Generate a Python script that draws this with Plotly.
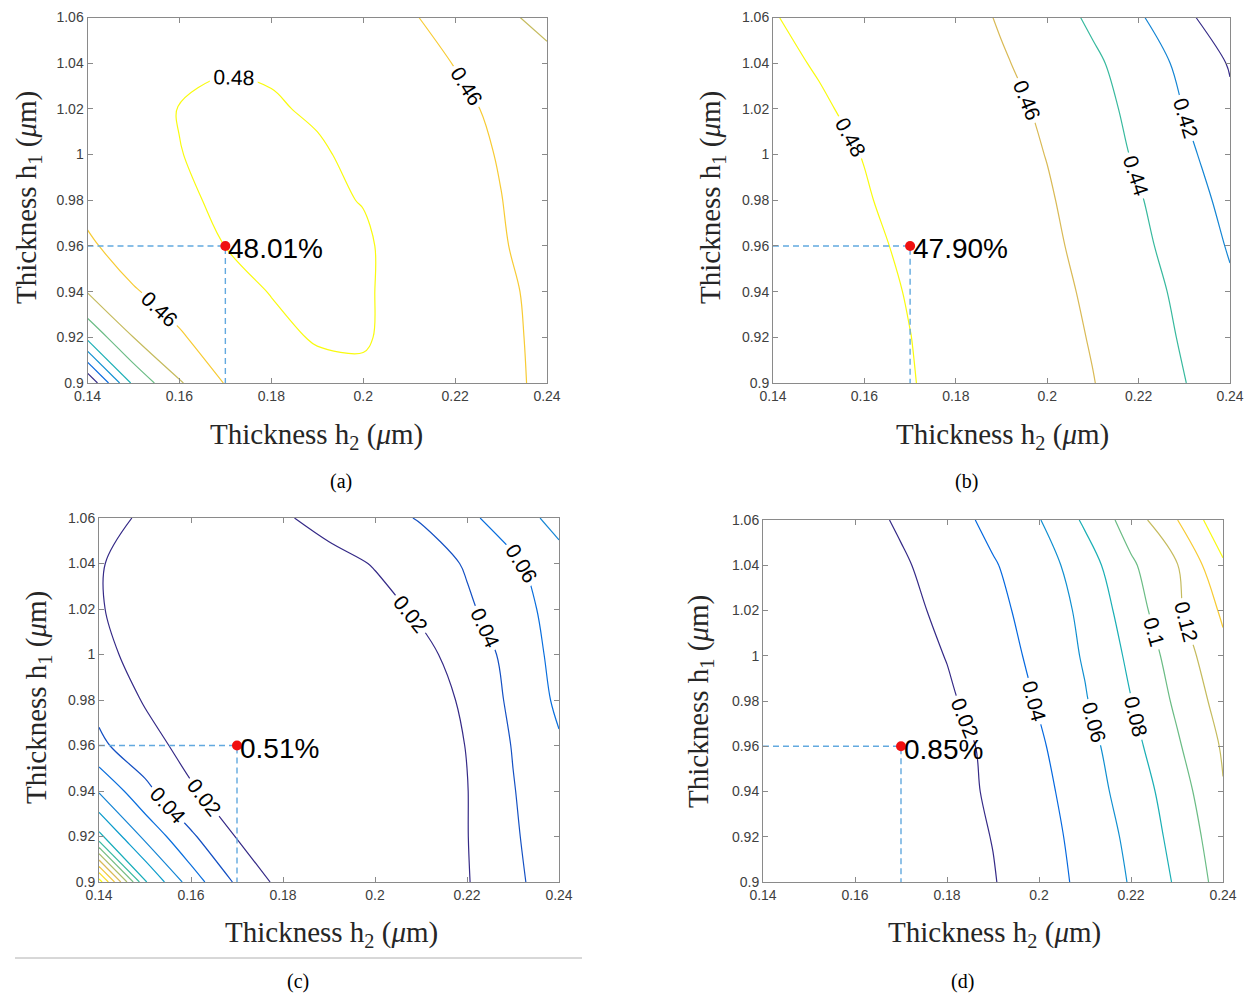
import plotly.graph_objects as go

# ---------------- data ----------------
H2 = [0.14, 0.15, 0.16, 0.17, 0.18, 0.19, 0.20, 0.21, 0.22, 0.23, 0.24]   # thickness h2 (um)
H1 = [0.90, 0.92, 0.94, 0.96, 0.98, 1.00, 1.02, 1.04, 1.06]               # thickness h1 (um)

# (a) rows = H1, columns = H2
Z_A = [
    [0.322, 0.405, 0.438, 0.461, 0.470, 0.475, 0.477, 0.475, 0.471, 0.465, 0.456],
    [0.405, 0.440, 0.458, 0.470, 0.4765, 0.4812, 0.4815, 0.4745, 0.469, 0.4635, 0.4565],
    [0.441, 0.4585, 0.468, 0.4755, 0.4805, 0.4828, 0.4822, 0.4735, 0.4685, 0.4635, 0.455],
    [0.457, 0.469, 0.4755, 0.4801, 0.4825, 0.483, 0.4822, 0.4735, 0.4685, 0.4612, 0.454],
    [0.4655, 0.472, 0.4785, 0.4815, 0.483, 0.4825, 0.4795, 0.474, 0.468, 0.4603, 0.452],
    [0.469, 0.4745, 0.4798, 0.482, 0.4825, 0.4815, 0.477, 0.4715, 0.4655, 0.459, 0.449],
    [0.4705, 0.4755, 0.4803, 0.4825, 0.4812, 0.4785, 0.4745, 0.4695, 0.4635, 0.457, 0.446],
    [0.4705, 0.4745, 0.4775, 0.479, 0.4785, 0.4755, 0.4715, 0.4665, 0.4595, 0.4515, 0.4432],
    [0.469, 0.4725, 0.475, 0.476, 0.4752, 0.4725, 0.4685, 0.4615, 0.4545, 0.4425, 0.4365],
]
# (b)
Z_B = [
    [0.4865, 0.4852, 0.4832, 0.4804, 0.4775, 0.4735, 0.468, 0.4605, 0.451, 0.4405, 0.429],
    [0.4862, 0.485, 0.483, 0.4801, 0.4768, 0.4725, 0.4668, 0.4588, 0.4495, 0.438, 0.4255],
    [0.4858, 0.4845, 0.4825, 0.4795, 0.476, 0.4713, 0.4652, 0.457, 0.4475, 0.4355, 0.4225],
    [0.4852, 0.4838, 0.4812, 0.479, 0.4752, 0.470, 0.4635, 0.4545, 0.4445, 0.4315, 0.4185],
    [0.4845, 0.4828, 0.4805, 0.478, 0.474, 0.4685, 0.4618, 0.452, 0.4415, 0.4285, 0.4145],
    [0.4835, 0.4818, 0.4798, 0.477, 0.4728, 0.4672, 0.4595, 0.4495, 0.4375, 0.4245, 0.409],
    [0.4825, 0.4808, 0.4785, 0.4757, 0.4712, 0.4652, 0.457, 0.447, 0.4345, 0.4195, 0.4035],
    [0.4815, 0.4795, 0.4772, 0.4742, 0.4695, 0.4615, 0.4543, 0.4435, 0.4305, 0.4153, 0.3985],
    [0.4803, 0.4782, 0.4757, 0.4722, 0.4665, 0.4585, 0.4495, 0.4365, 0.4225, 0.4045, 0.387],
]
# (c)
Z_C = [
    [0.270, 0.122, 0.070, 0.0367, 0.0135, 0.008, 0.006, 0.0095, 0.019, 0.034, 0.0555],
    [0.125, 0.075, 0.043, 0.019, 0.010, 0.0065, 0.0055, 0.009, 0.0195, 0.037, 0.056],
    [0.078, 0.045, 0.022, 0.011, 0.006, 0.0045, 0.0055, 0.0095, 0.0195, 0.039, 0.0565],
    [0.044, 0.027, 0.0135, 0.0051, 0.004, 0.0045, 0.0065, 0.0105, 0.0205, 0.041, 0.058],
    [0.034, 0.0185, 0.0095, 0.0055, 0.0045, 0.0055, 0.0085, 0.0125, 0.0225, 0.0445, 0.0635],
    [0.025, 0.0135, 0.0065, 0.0042, 0.0045, 0.0075, 0.0115, 0.016, 0.0265, 0.0475, 0.066],
    [0.0213, 0.0115, 0.0055, 0.004, 0.0055, 0.009, 0.0145, 0.0225, 0.037, 0.0515, 0.068],
    [0.0215, 0.0105, 0.006, 0.0055, 0.009, 0.0145, 0.021, 0.0295, 0.042, 0.0565, 0.0725],
    [0.030, 0.016, 0.012, 0.013, 0.018, 0.026, 0.033, 0.0415, 0.056, 0.070, 0.087],
]
# (d)
Z_D = [
    [0.0032, 0.005, 0.0072, 0.0098, 0.0128, 0.019, 0.031, 0.0445, 0.0615, 0.0825, 0.108],
    [0.003, 0.0048, 0.007, 0.0095, 0.0128, 0.0205, 0.0325, 0.0465, 0.0645, 0.0865, 0.112],
    [0.0028, 0.0045, 0.0065, 0.0092, 0.0135, 0.0225, 0.0345, 0.0498, 0.069, 0.090, 0.119],
    [0.0027, 0.0045, 0.0065, 0.0085, 0.0135, 0.024, 0.0375, 0.053, 0.0735, 0.0975, 0.122],
    [0.0027, 0.0048, 0.0078, 0.0122, 0.0178, 0.027, 0.0415, 0.0585, 0.0795, 0.1035, 0.128],
    [0.0028, 0.005, 0.0085, 0.0135, 0.0205, 0.031, 0.045, 0.062, 0.084, 0.109, 0.135],
    [0.003, 0.0055, 0.0095, 0.0155, 0.0235, 0.0345, 0.048, 0.0645, 0.090, 0.1165, 0.143],
    [0.0035, 0.0065, 0.0115, 0.018, 0.0265, 0.0385, 0.0505, 0.0705, 0.097, 0.119, 0.157],
    [0.004, 0.008, 0.014, 0.022, 0.032, 0.045, 0.059, 0.083, 0.109, 0.1395, 0.175],
]

# contour levels of each panel (MATLAB-style, step 0.02)
LEVELS_A = [0.34, 0.36, 0.38, 0.40, 0.42, 0.44, 0.46, 0.48]
LEVELS_B = [0.40, 0.42, 0.44, 0.46, 0.48]
LEVELS_C = [0.02, 0.04, 0.06, 0.08, 0.10, 0.12, 0.14, 0.16, 0.18, 0.20, 0.22, 0.24, 0.26]
LEVELS_D = [0.02, 0.04, 0.06, 0.08, 0.10, 0.12, 0.14, 0.16]
LEVEL_STEP = 0.02

X_TICKS = [0.14, 0.16, 0.18, 0.20, 0.22, 0.24]
X_TICKTEXT = ["0.14", "0.16", "0.18", "0.2", "0.22", "0.24"]
Y_TICKS = [0.90, 0.92, 0.94, 0.96, 0.98, 1.00, 1.02, 1.04, 1.06]
Y_TICKTEXT = ["0.9", "0.92", "0.94", "0.96", "0.98", "1", "1.02", "1.04", "1.06"]

OPT_H2 = 0.17
OPT_H1 = 0.96
PANEL_VALUES = ["48.01%", "47.90%", "0.51%", "0.85%"]
CAPTIONS = ["(a)", "(b)", "(c)", "(d)"]
X_TITLE = "Thickness h<sub>2</sub> (<i>μ</i>m)"
Y_TITLE = "Thickness h<sub>1</sub> (<i>μ</i>m)"

# ---------------- layout geometry (page pixels) ----------------
W, H = 1252, 994
PAGE_OFFSET = 8          # the page body margin shifts the figure by this much
PANELS_PX = [(87.5, 547, 17.5, 383), (773, 1230, 17.5, 383),
             (99, 559, 518, 882), (763, 1223, 520, 882)]
X_TITLE_PX = [(316, 436), (1002, 436), (331, 934), (994, 934)]
Y_TITLE_PX = [(28, 198), (712, 198), (38, 698), (700, 702)]
CAPTION_PX = [(341, 481), (966, 481), (298, 981), (962, 981)]

PARULA = [(0.0, (53, 42, 135)), (0.125, (3, 99, 225)), (0.25, (20, 133, 212)),
          (0.375, (6, 167, 198)), (0.5, (56, 185, 158)), (0.625, (146, 191, 115)),
          (0.75, (217, 186, 86)), (0.875, (252, 206, 46)), (1.0, (249, 251, 14))]


def parula(t):
    t = min(max(t, 0.0), 1.0)
    for (t0, c0), (t1, c1) in zip(PARULA[:-1], PARULA[1:]):
        if t <= t1:
            f = (t - t0) / (t1 - t0) if t1 > t0 else 0
            return 'rgb(%d,%d,%d)' % tuple(round(a + (b - a) * f) for a, b in zip(c0, c1))
    return 'rgb(%d,%d,%d)' % PARULA[-1][1]


def px_x(v):
    return (v - PAGE_OFFSET) / W


def px_y(v):
    return 1 - (v - PAGE_OFFSET) / H


fig = go.Figure()
ZS = [Z_A, Z_B, Z_C, Z_D]
LEVELS = [LEVELS_A, LEVELS_B, LEVELS_C, LEVELS_D]
annotations = []
for i, z in enumerate(ZS):
    n = i + 1
    xa = 'x' if n == 1 else f'x{n}'
    ya = 'y' if n == 1 else f'y{n}'
    levs = LEVELS[i]
    lo, hi = levs[0], levs[-1]
    for lev in levs:
        fig.add_trace(go.Contour(
            x=H2, y=H1, z=z, xaxis=xa, yaxis=ya,
            showscale=False, hoverinfo='skip', autocontour=False,
            contours=dict(start=lev, end=lev, size=LEVEL_STEP,
                          coloring='none', showlabels=True,
                          labelfont=dict(family='Liberation Sans', size=21, color='black')),
            line=dict(width=1.2, smoothing=1.0, color=parula((lev - lo) / (hi - lo))),
        ))
    # dashed guide lines from the axes to the optimum point
    fig.add_trace(go.Scatter(
        x=[H2[0], OPT_H2, OPT_H2], y=[OPT_H1, OPT_H1, H1[0]], xaxis=xa, yaxis=ya,
        mode='lines', line=dict(color='#62a9df', width=1.4, dash='6px,4px'),
        hoverinfo='skip', showlegend=False))
    fig.add_trace(go.Scatter(
        x=[OPT_H2], y=[OPT_H1], xaxis=xa, yaxis=ya, mode='markers',
        marker=dict(color='#f01010', size=10), hoverinfo='skip', showlegend=False))
    annotations.append(dict(
        x=OPT_H2, y=OPT_H1, xref=xa, yref=ya, text=PANEL_VALUES[i],
        showarrow=False, xanchor='left', yanchor='middle', xshift=1, yshift=-3,
        font=dict(family='Liberation Sans', size=28, color='black')))

    l, r, t, b = PANELS_PX[i]
    axis_common = dict(showline=True, linecolor='#8a8a8a', linewidth=1, mirror='ticks',
                       ticks='inside', ticklen=5, tickwidth=1, tickcolor='#8a8a8a',
                       showgrid=False, zeroline=False, automargin=False,
                       tickfont=dict(family='Liberation Sans', size=14, color='#404040'))
    fig.layout[f'xaxis{"" if n == 1 else n}'] = dict(
        domain=[px_x(l), px_x(r)], anchor=ya, range=[H2[0], H2[-1]],
        tickvals=X_TICKS, ticktext=X_TICKTEXT, **axis_common)
    fig.layout[f'yaxis{"" if n == 1 else n}'] = dict(
        domain=[px_y(b), px_y(t)], anchor=xa, range=[H1[0], H1[-1]],
        tickvals=Y_TICKS, ticktext=Y_TICKTEXT, **axis_common)

    tx, ty = X_TITLE_PX[i]
    annotations.append(dict(x=px_x(tx), y=px_y(ty), xref='paper', yref='paper',
                            text=X_TITLE, showarrow=False, xanchor='center', yanchor='middle',
                            font=dict(family='Liberation Serif', size=29, color='#262626')))
    tx, ty = Y_TITLE_PX[i]
    annotations.append(dict(x=px_x(tx), y=px_y(ty), xref='paper', yref='paper',
                            text=Y_TITLE, showarrow=False, textangle=-90,
                            xanchor='center', yanchor='middle',
                            font=dict(family='Liberation Serif', size=29, color='#262626')))
    cx, cy = CAPTION_PX[i]
    annotations.append(dict(x=px_x(cx), y=px_y(cy), xref='paper', yref='paper',
                            text=CAPTIONS[i], showarrow=False, xanchor='center', yanchor='middle',
                            font=dict(family='Liberation Serif', size=20, color='black')))

fig.update_layout(
    width=W, height=H, autosize=False, margin=dict(l=0, r=0, t=0, b=0, pad=0),
    paper_bgcolor='white', plot_bgcolor='white', showlegend=False,
    annotations=annotations,
    shapes=[dict(type='line', xref='paper', yref='paper',
                 x0=px_x(15), x1=px_x(582), y0=px_y(958), y1=px_y(958),
                 line=dict(color='#b0b0b0', width=1))],
)

fig.write_html("out.html", config={'responsive': False})
